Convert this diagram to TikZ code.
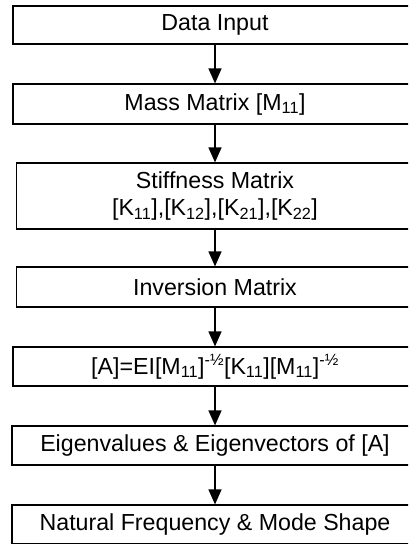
\documentclass[tikz,border=0pt]{standalone}
\usepackage{fontspec}
\setmainfont{Liberation Sans}
\usetikzlibrary{arrows.meta}
\begin{document}
\begin{tikzpicture}[x=1pt,y=-1pt,
  box/.style={draw=black, line width=1.2pt, inner sep=0pt, align=center,
    font=\fontsize{23.2}{27}\selectfont},
  arr/.style={line width=1.2pt, -{Triangle[width=13pt,length=15pt]}}]
\path[use as bounding box, clip] (0,0) rectangle (408,544);
\node[box, line width=1.8pt, minimum width=404pt, minimum height=38pt] (b1) at (215,25) {Data Input};
\node[box, minimum width=404pt, minimum height=40pt] (b2) at (215,104) {Mass Matrix [M\textsubscript{11}]};
\node[box, minimum width=397pt, minimum height=66pt] (b3) at (215,196) {Stiffness Matrix\\{}{[}K\textsubscript{11}],[K\textsubscript{12}],[K\textsubscript{21}],[K\textsubscript{22}]};
\node[box, minimum width=397pt, minimum height=40pt] (b4) at (215,287) {Inversion Matrix};
\node[box, minimum width=404pt, minimum height=39pt] (b5) at (215,366.5) {[A]=EI[M\textsubscript{11}]\textsuperscript{-½}[K\textsubscript{11}][M\textsubscript{11}]\textsuperscript{-½}};
\node[box, minimum width=406pt, minimum height=39pt] (b6) at (215,445.5) {Eigenvalues \& Eigenvectors of [A]};
\node[box, minimum width=406pt, minimum height=39pt] (b7) at (215,524.5) {Natural Frequency \& Mode Shape};
\draw[arr] (b1) -- (b2);
\draw[arr] (b2) -- (b3);
\draw[arr] (b3) -- (b4);
\draw[arr] (b4) -- (b5);
\draw[arr] (b5) -- (b6);
\draw[arr] (b6) -- (b7);
\end{tikzpicture}
\end{document}
